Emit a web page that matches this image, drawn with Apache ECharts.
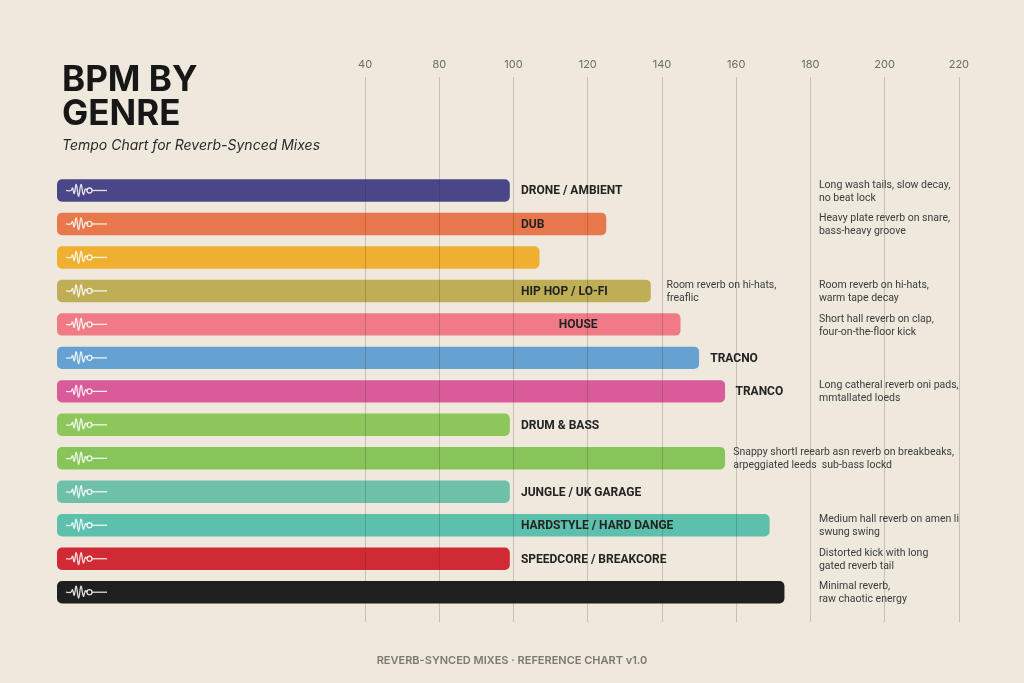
<!DOCTYPE html>
<html>
<head>
<meta charset="utf-8">
<title>BPM by Genre</title>
<script src="https://cdn.jsdelivr.net/npm/echarts@6/dist/echarts.min.js"></script>
<style>
  html, body { margin: 0; padding: 0; background: #eee8dd; }
  #chart { width: 1024px; height: 683px; }
</style>
</head>
<body>
<div id="chart"></div>
<script>
// 每一行的曲风名称（空字符串表示该行无标签）
var genres = ['DRONE / AMBIENT', 'DUB', '', 'HIP HOP / LO-FI', 'HOUSE', 'TRACNO', 'TRANCO',
    'DRUM & BASS', '', 'JUNGLE / UK GARAGE', 'HARDSTYLE / HARD DANGE', 'SPEEDCORE / BREAKCORE', ''];
// BPM
var bpm = [99, 125, 107, 137, 145, 150, 157, 99, 157, 99, 169, 99, 173];
// 右侧说明
var notes = [
    'Long wash tails, slow decay,\nno beat lock',
    'Heavy plate reverb on snare,\nbass-heavy groove',
    '',
    'Room reverb on hi-hats,\nwarm tape decay',
    'Short hall reverb on clap,\nfour-on-the-floor kick',
    '',
    'Long catheral reverb oni pads,\nmmtallated loeds',
    '',
    '',
    '',
    'Medium hall reverb on amen li\nswung swing',
    'Distorted kick with long\ngated reverb tail',
    'Minimal reverb,\nraw chaotic energy'
];
// 柱子旁边的说明
var sideNotes = ['', '', '', 'Room reverb on hi-hats,\nfreaflic', '', '', '', '',
    'Snappy shortI reearb asn reverb on breakbeaks,\narpeggiated leeds  sub-bass lockd', '', '', '', ''];
// 刻度
var tickValues = [60, 80, 100, 120, 140, 160, 180, 200, 220];
var tickLabels = ['40', '80', '100', '120', '140', '160', '180', '200', '220'];

// 样式 / 位置
var colors = ['#4b4687', '#e8774b', '#efb031', '#bfae56', '#f07b87', '#65a1d1', '#da5b99',
    '#8dc75b', '#87c55b', '#6ec0a9', '#5cc0ac', '#d02b34', '#1f1f1f'];
var labelAt = [102, 102, 0, 102, 112.2, 153, 159.8, 102, 0, 102, 102, 102, 0];
var sideNoteAt = [0, 0, 0, 141.2, 0, 0, 0, 0, 159.2, 0, 0, 0, 0];
var NOTE_AT = 182.3;
var X_MIN = -23;
var FONT = 'Inter, "Noto Sans", sans-serif';
var SMALL_FONT = 'Roboto, "Noto Sans", sans-serif';

function renderItem(params, api) {
    var i = api.value(0);
    var v = api.value(1);
    var start = api.coord([X_MIN, i]);
    var end = api.coord([v, i]);
    var h = api.size([0, 1])[1] * 0.67;
    var cy = start[1];
    var children = [];

    children.push({
        type: 'rect',
        shape: {x: start[0], y: cy - h / 2, width: end[0] - start[0], height: h, r: 5},
        style: {fill: colors[i]}
    });

    // 波形小图标
    var ox = start[0] + 9;
    var wave = [[0, 0], [5, 0], [6.5, -2.5], [8.2, 3], [10.2, -6], [12.6, 6], [15, -6], [17.4, 4], [19.4, -1.5], [21, 0]];
    var pts = [];
    for (var k = 0; k < wave.length; k++) {
        pts.push([ox + wave[k][0], cy + wave[k][1]]);
    }
    var iconStyle = {stroke: 'rgba(255,255,255,0.85)', lineWidth: 1.3, fill: null};
    children.push({type: 'polyline', shape: {points: pts, smooth: 0.45}, style: iconStyle});
    children.push({type: 'circle', shape: {cx: ox + 23.5, cy: cy, r: 2.5}, style: iconStyle});
    children.push({type: 'line', shape: {x1: ox + 26, y1: cy, x2: ox + 41, y2: cy}, style: iconStyle});

    if (genres[i]) {
        var lp = api.coord([labelAt[i], i]);
        children.push({
            type: 'text',
            style: {
                text: genres[i], x: lp[0], y: cy + 1,
                fill: '#232323', fontSize: 12, fontWeight: 'bold', fontFamily: SMALL_FONT,
                align: 'left', verticalAlign: 'middle'
            }
        });
    }
    if (notes[i]) {
        var np = api.coord([NOTE_AT, i]);
        children.push({
            type: 'text',
            style: {
                text: notes[i], x: np[0], y: cy + 1,
                fill: '#3c3c3c', fontSize: 10.5, fontFamily: SMALL_FONT, lineHeight: 13,
                align: 'left', verticalAlign: 'middle'
            }
        });
    }
    if (sideNotes[i]) {
        var sp = api.coord([sideNoteAt[i], i]);
        children.push({
            type: 'text',
            style: {
                text: sideNotes[i], x: sp[0], y: cy + 1,
                fill: '#3c3c3c', fontSize: 10.5, fontFamily: SMALL_FONT, lineHeight: 13,
                align: 'left', verticalAlign: 'middle'
            }
        });
    }
    return {type: 'group', children: children};
}

var data = [];
for (var i = 0; i < bpm.length; i++) {
    data.push([i, bpm[i]]);
}

var gridLines = [];
for (var j = 0; j < tickValues.length; j++) {
    gridLines.push({xAxis: tickValues[j]});
}

var option = {
    backgroundColor: '#eee8dd',
    animation: false,
    title: [
        {
            text: 'BPM BY\nGENRE', left: 57, top: 58,
            textStyle: {fontSize: 35, fontWeight: 'bold', lineHeight: 34, color: '#171717', fontFamily: FONT}
        },
        {
            text: 'Tempo Chart for Reverb-Synced Mixes', left: 57, top: 134,
            textStyle: {fontSize: 14, fontStyle: 'italic', fontWeight: 'normal', color: '#2b2b2b', fontFamily: FONT}
        },
        {
            text: 'REVERB-SYNCED MIXES · REFERENCE CHART v1.0', left: 'center', top: 650,
            textStyle: {fontSize: 11, fontWeight: 600, color: '#7c7872', fontFamily: FONT}
        }
    ],
    grid: {left: 57, right: 28, top: 77, bottom: 61},
    xAxis: {
        type: 'value', position: 'top', min: X_MIN, max: 230,
        axisLine: {show: false}, axisTick: {show: false}, splitLine: {show: false},
        axisLabel: {
            customValues: tickValues, margin: 7, color: '#6f6a63', fontSize: 11, fontFamily: FONT,
            formatter: function (value) {
                var idx = tickValues.indexOf(value);
                return idx >= 0 ? tickLabels[idx] : '';
            }
        }
    },
    yAxis: {
        type: 'value', inverse: true, min: -3.39, max: 12.89, show: false
    },
    series: [{
        type: 'custom',
        renderItem: renderItem,
        encode: {x: 1, y: 0},
        data: data,
        clip: false,
        markLine: {
            silent: true,
            symbol: ['none', 'none'],
            label: {show: false},
            lineStyle: {color: 'rgba(40,30,20,0.2)', width: 1, type: 'solid'},
            data: gridLines
        }
    }]
};

var myChart = echarts.init(document.getElementById('chart'));
myChart.setOption(option);
</script>
</body>
</html>
